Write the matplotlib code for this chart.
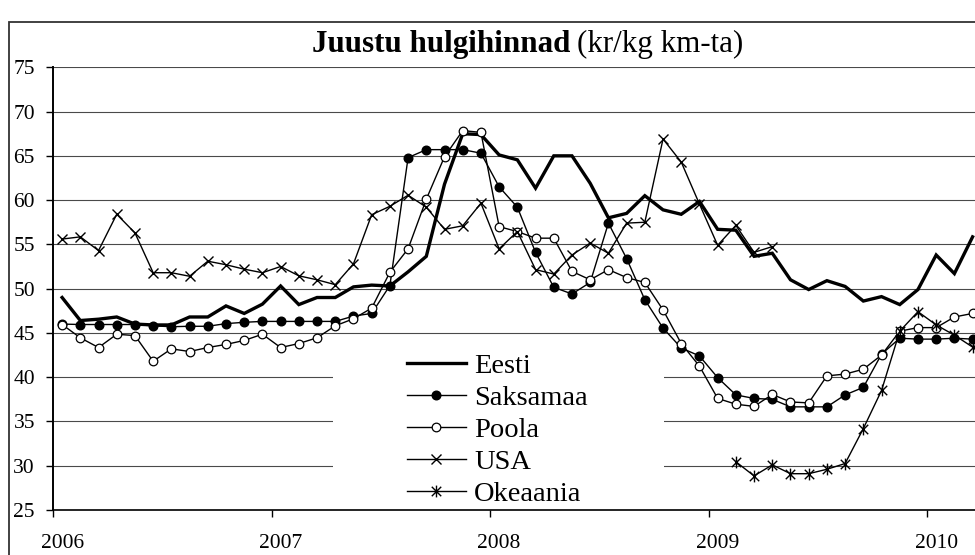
import numpy as np
import matplotlib
matplotlib.use('Agg')
import matplotlib.pyplot as plt
from matplotlib.path import Path
from matplotlib.patches import Rectangle

nan = np.nan

# ---- data (monthly, Jan 2006 .. Mar 2010) ----
year_labels = ['2006', '2007', '2008', '2009', '2010']
year_start_index = [0, 12, 24, 36, 48]
n_months = 51

eesti = [49.0, 46.4, 46.55, 46.8, 46.0, 45.9, 45.9, 46.8, 46.8, 48.05, 47.2, 48.25, 50.3,
         48.2, 49.0, 49.0, 50.2, 50.4, 50.3, 51.9, 53.65, 61.8, 67.5, 67.4, 65.1, 64.55,
         61.35, 65.0, 65.0, 61.9, 58.0, 58.5, 60.5, 58.9, 58.4, 59.85, 56.7, 56.6, 53.65,
         54.0, 51.0, 49.9, 50.9, 50.25, 48.6, 49.1, 48.2, 49.9, 53.8, 51.7, 55.85]

saksamaa = [46.0, 45.95, 45.95, 45.95, 45.95, 45.8, 45.7, 45.75, 45.75, 46.05, 46.2, 46.3, 46.3,
            46.3, 46.3, 46.3, 46.9, 47.2, 50.35, 64.8, 65.7, 65.7, 65.7, 65.3, 61.5, 59.2,
            54.1, 50.15, 49.4, 50.7, 57.4, 53.4, 48.75, 45.55, 43.3, 42.4, 39.95, 38.0, 37.6,
            37.5, 36.65, 36.65, 36.65, 38.0, 38.85, 42.6, 44.4, 44.3, 44.3, 44.4, 44.3]

poola = [45.95, 44.45, 43.35, 44.85, 44.7, 41.8, 43.2, 42.9, 43.35, 43.7, 44.15, 44.85, 43.35,
         43.8, 44.45, 45.8, 46.6, 47.8, 51.85, 54.5, 60.1, 64.9, 67.85, 67.65, 57.0, 56.45,
         55.7, 55.7, 51.95, 51.0, 52.15, 51.25, 50.7, 47.6, 43.8, 41.25, 37.6, 36.95, 36.7,
         38.05, 37.2, 37.1, 40.15, 40.35, 40.9, 42.5, 45.2, 45.6, 45.6, 46.8, 47.2]

usa = [55.6, 55.85, 54.3, 58.4, 56.3, 51.8, 51.8, 51.4, 53.1, 52.7, 52.2, 51.8, 52.5,
       51.45, 51.0, 50.45, 52.8, 58.35, 59.3, 60.55, 59.2, 56.7, 57.1, 59.65, 54.5, 56.45,
       52.15, 51.65, 53.8, 55.15, 54.0, 57.4, 57.5, 66.9, 64.3, 59.55, 54.9, 57.15, 54.1,
       54.75] + [nan] * 11

okeaania = [nan] * 37 + [30.45, 28.85, 30.1, 29.1, 29.1, 29.6, 30.25, 34.2, 38.5,
                         45.2, 47.4, 45.9, 44.75, 43.4]

series_names = ['Eesti', 'Saksamaa', 'Poola', 'USA', 'Okeaania']

# ---- style ----
plt.rcParams['font.family'] = ['Liberation Serif', 'DejaVu Serif']

W, H = 975, 555
fig = plt.figure(figsize=(W / 100, H / 100), dpi=100)
fig.patch.set_facecolor('white')

# outer chart border (cropped on right/bottom)
fig.patches.append(Rectangle((9 / W, -0.1), 1.2, 1 - 22 / H + 0.1, transform=fig.transFigure,
                             fill=False, edgecolor='#333333', linewidth=1.3))

left_px, right_px, top_px, bottom_px = 53, 981.7, 67.3, 510
ax = fig.add_axes([left_px / W, (H - bottom_px) / H,
                   (right_px - left_px) / W, (bottom_px - top_px) / H])
ax.set_facecolor('none')

x = np.arange(n_months)

ax.set_xlim(-0.5, n_months - 0.5)
ax.set_ylim(25, 75)
ax.set_yticks(np.arange(25, 76, 5))
ax.yaxis.grid(True, color='#4a4a4a', linewidth=0.8, zorder=0)
ax.set_axisbelow(True)

# white legend area that hides gridlines
ax.add_patch(Rectangle((0.3015, 0.003), 0.3565, 0.381, transform=ax.transAxes,
                       facecolor='white', edgecolor='none', zorder=1))

star = Path([(-1, -1), (1, 1), (-1, 1), (1, -1), (0, -1.25), (0, 1.25)],
            [Path.MOVETO, Path.LINETO, Path.MOVETO, Path.LINETO, Path.MOVETO, Path.LINETO])

ax.plot(x, eesti, color='black', linewidth=2.4, label=series_names[0], zorder=3,
        solid_joinstyle='miter')
ax.plot(x, saksamaa, color='black', linewidth=1.0, marker='o', markersize=6.2,
        markerfacecolor='black', markeredgecolor='black', label=series_names[1], zorder=4)
ax.plot(x, poola, color='black', linewidth=1.0, marker='o', markersize=6.2,
        markerfacecolor='white', markeredgecolor='black', markeredgewidth=0.9,
        label=series_names[2], zorder=5)
ax.plot(x, usa, color='black', linewidth=1.0, marker='x', markersize=7.5,
        markeredgewidth=1.0, label=series_names[3], zorder=6)
ax.plot(x, okeaania, color='black', linewidth=1.0, marker=star, markersize=8.5,
        markerfacecolor='none', markeredgecolor='black', markeredgewidth=1.0,
        label=series_names[4], zorder=7)

# axes spines
for s in ['top', 'right']:
    ax.spines[s].set_visible(False)
ax.spines['left'].set_linewidth(1.4)
ax.spines['bottom'].set_linewidth(1.2)
ax.spines['left'].set_zorder(8)
ax.spines['bottom'].set_zorder(8)

# ticks: marks at year boundaries, labels at January
ax.set_xticks([i - 0.5 for i in year_start_index])
ax.set_xticklabels([''] * len(year_start_index))
ax.set_xticks(year_start_index, minor=True)
ax.set_xticklabels(year_labels, minor=True)
ax.tick_params(axis='x', which='major', direction='out', length=5, width=1.0)
ax.tick_params(axis='x', which='minor', length=0, pad=17, labelsize=15.5)
ax.tick_params(axis='y', direction='out', length=5, width=1.0, pad=8, labelsize=15.5)

leg = ax.legend(loc='upper left', bbox_to_anchor=(0.3815, 0.3555), frameon=False,
                fontsize=20.5, handlelength=2.05, handletextpad=0.3, labelspacing=0.22,
                borderpad=0.0, borderaxespad=0.0)
leg.set_zorder(9)

# title
fig.text(570 / W, 1 - 52 / H, 'Juustu hulgihinnad', fontsize=22.3, fontweight='bold',
         ha='right', va='baseline')
fig.text(577 / W, 1 - 52 / H, '(kr/kg km-ta)', fontsize=22.3, ha='left', va='baseline')

fig.savefig('out.png', dpi=100)
